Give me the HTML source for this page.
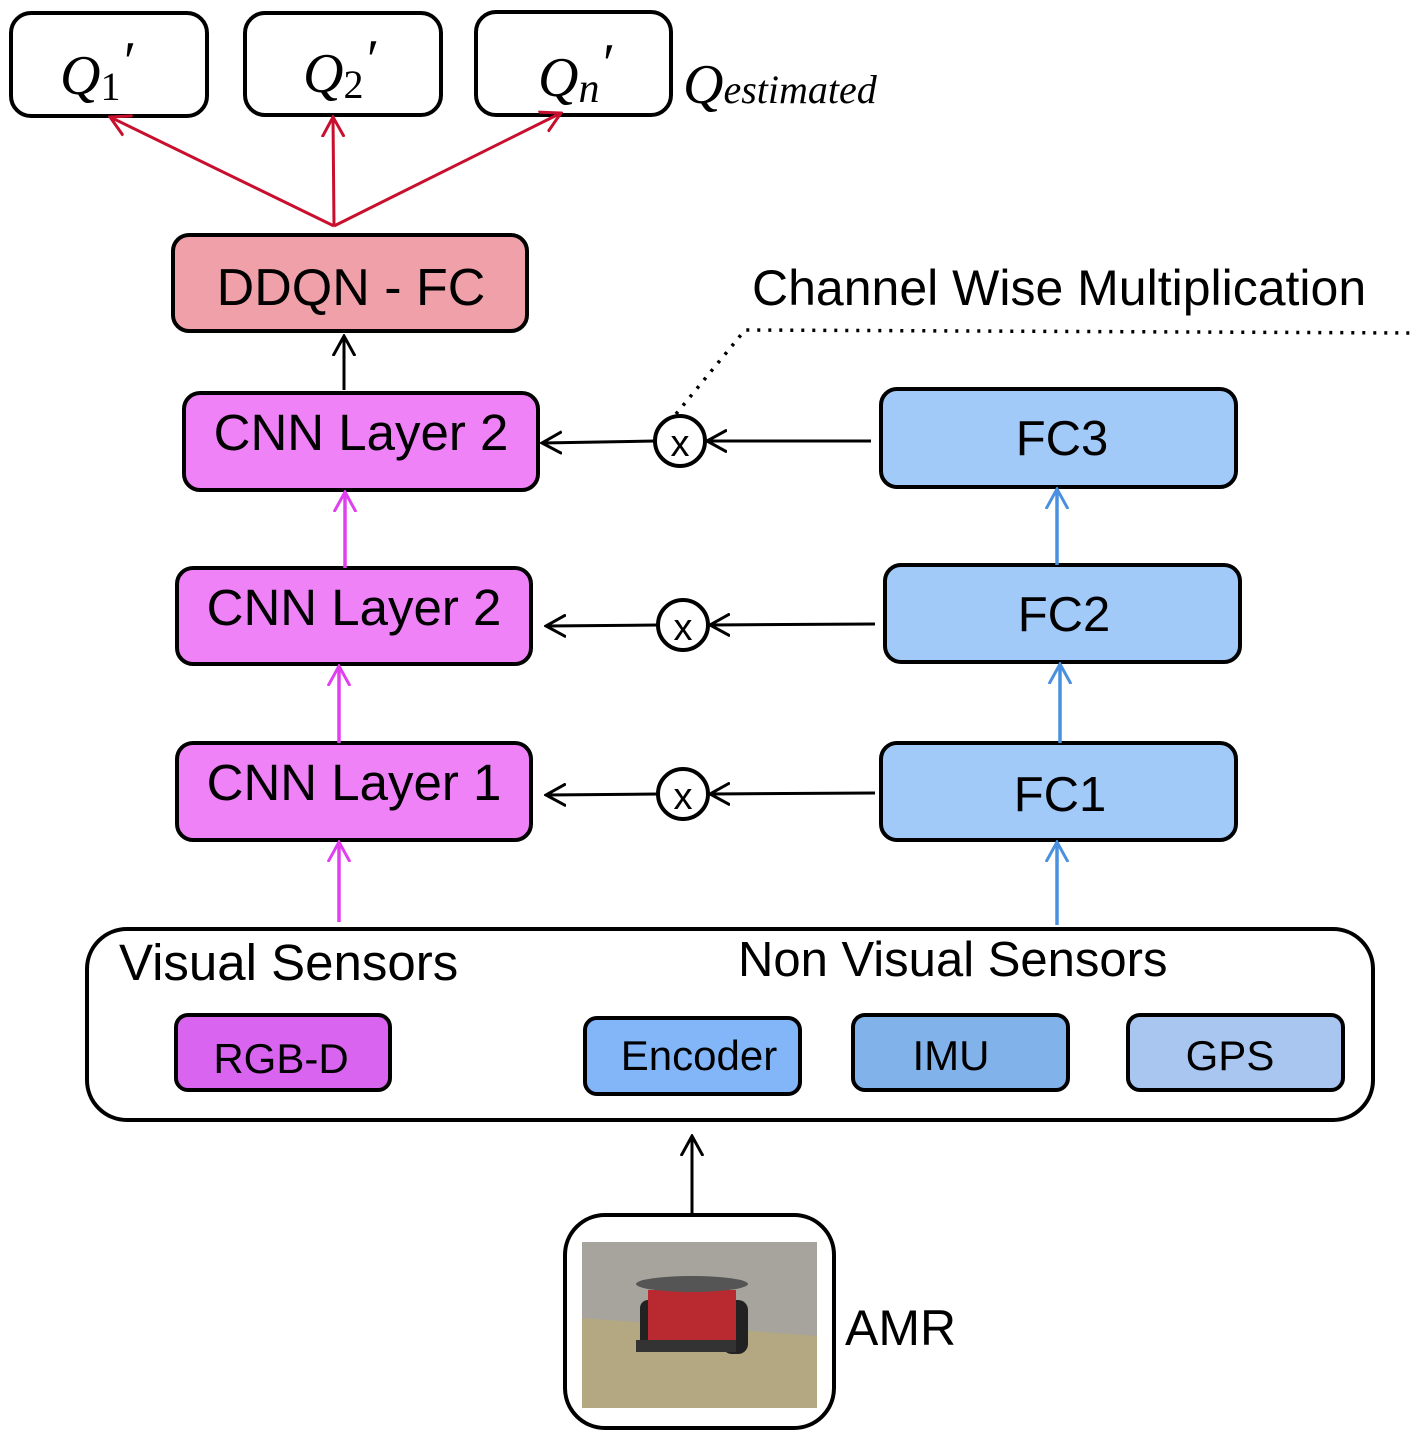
<!DOCTYPE html>
<html><head><meta charset="utf-8"><style>html,body{margin:0;padding:0;background:#fff}svg{display:block}</style></head><body>
<svg width="1424" height="1444" viewBox="0 0 1424 1444" xmlns="http://www.w3.org/2000/svg" font-family="Liberation Sans, sans-serif">
<defs>
<marker id="ar" markerWidth="22" markerHeight="24" refX="20" refY="12" orient="auto" markerUnits="userSpaceOnUse"><path d="M0,1 L20,12 L0,23" fill="none" stroke="context-stroke" stroke-width="3"/></marker>
</defs>
<g stroke="#000" stroke-width="4" fill="#fff">
<rect x="11" y="13" width="196" height="103" rx="20"/>
<rect x="245" y="13" width="196" height="102" rx="20"/>
<rect x="476" y="12" width="195" height="103" rx="20"/>
<rect x="173" y="235" width="354" height="96" rx="16" fill="#f0a0a8"/>
<rect x="184" y="393" width="354" height="97" rx="16" fill="#ee82f6"/>
<rect x="177" y="568" width="354" height="96" rx="16" fill="#ee82f6"/>
<rect x="177" y="743" width="354" height="97" rx="16" fill="#ee82f6"/>
<rect x="881" y="389" width="355" height="98" rx="16" fill="#a2caf8"/>
<rect x="885" y="565" width="355" height="97" rx="16" fill="#a2caf8"/>
<rect x="881" y="743" width="355" height="97" rx="16" fill="#a2caf8"/>
<rect x="87" y="929" width="1286" height="191" rx="40"/>
<rect x="176" y="1015" width="214" height="75" rx="12" fill="#d864f0"/>
<rect x="585" y="1018" width="215" height="76" rx="12" fill="#82b6f8"/>
<rect x="853" y="1015" width="215" height="75" rx="12" fill="#82b2ea"/>
<rect x="1128" y="1015" width="215" height="75" rx="12" fill="#a8c6f0"/>
<rect x="565" y="1215" width="269" height="213" rx="40"/>
<circle cx="680" cy="441" r="25"/>
<circle cx="683" cy="625" r="25"/>
<circle cx="683" cy="794" r="25"/>
</g>
<!-- AMR picture -->
<rect x="582" y="1242" width="235" height="166" fill="#a6a49c"/>
<polygon points="582,1318 817,1336 817,1408 582,1408" fill="#b4a882"/>
<rect x="640" y="1300" width="20" height="48" rx="8" fill="#222"/>
<rect x="722" y="1300" width="26" height="54" rx="10" fill="#222"/>
<rect x="648" y="1290" width="88" height="58" fill="#b82a30"/>
<ellipse cx="692" cy="1284" rx="56" ry="8" fill="#555"/>
<rect x="636" y="1340" width="100" height="12" fill="#333"/>
<g stroke="#c8102e" stroke-width="3" fill="none">
<line x1="334" y1="226" x2="110" y2="117" marker-end="url(#ar)"/>
<line x1="334" y1="226" x2="333" y2="117" marker-end="url(#ar)"/>
<line x1="334" y1="226" x2="561" y2="113" marker-end="url(#ar)"/>
</g>
<g stroke="#000" stroke-width="3" fill="none">
<line x1="344" y1="390" x2="344" y2="336" marker-end="url(#ar)"/>
<line x1="871" y1="441" x2="707" y2="441" marker-end="url(#ar)"/>
<line x1="655" y1="441" x2="542" y2="443" marker-end="url(#ar)"/>
<line x1="875" y1="624" x2="710" y2="625" marker-end="url(#ar)"/>
<line x1="658" y1="625" x2="546" y2="626" marker-end="url(#ar)"/>
<line x1="875" y1="793" x2="710" y2="794" marker-end="url(#ar)"/>
<line x1="658" y1="794" x2="546" y2="795" marker-end="url(#ar)"/>
<line x1="692" y1="1215" x2="692" y2="1136" marker-end="url(#ar)"/>
<polyline points="676,414 745,330 1414,333" stroke-dasharray="3,8" stroke-width="3.5"/>
</g>
<g stroke="#e040f0" stroke-width="3.5" fill="none">
<line x1="345" y1="568" x2="345" y2="492" marker-end="url(#ar)"/>
<line x1="339" y1="743" x2="339" y2="666" marker-end="url(#ar)"/>
<line x1="339" y1="922" x2="339" y2="842" marker-end="url(#ar)"/>
</g>
<g stroke="#4a90e0" stroke-width="3.5" fill="none">
<line x1="1057" y1="565" x2="1057" y2="489" marker-end="url(#ar)"/>
<line x1="1060" y1="743" x2="1060" y2="664" marker-end="url(#ar)"/>
<line x1="1057" y1="925" x2="1057" y2="842" marker-end="url(#ar)"/>
</g>
<g font-family="Liberation Serif, serif" font-style="italic" fill="#000">
<text x="60" y="94" font-size="56">Q<tspan font-size="40" font-style="normal" dy="6">1</tspan><tspan dy="-20">′</tspan></text>
<text x="303" y="92" font-size="56">Q<tspan font-size="40" font-style="normal" dy="6">2</tspan><tspan dy="-20">′</tspan></text>
<text x="538" y="96" font-size="56">Q<tspan font-size="42" dy="6">n</tspan><tspan dy="-20">′</tspan></text>
<text x="683" y="103" font-size="56">Q<tspan font-size="40">estimated</tspan></text>
</g>
<g font-size="51" fill="#000" text-anchor="middle">
<text x="351" y="305" font-size="52">DDQN - FC</text>
<text x="361" y="450">CNN Layer 2</text>
<text x="354" y="625">CNN Layer 2</text>
<text x="354" y="800">CNN Layer 1</text>
<text x="1062" y="455" font-size="49">FC3</text>
<text x="1064" y="631" font-size="49">FC2</text>
<text x="1060" y="811" font-size="49">FC1</text>
<text x="680" y="456" font-size="38">x</text>
<text x="683" y="640" font-size="38">x</text>
<text x="683" y="809" font-size="38">x</text>
</g>
<g font-size="49" fill="#000">
<text x="752" y="305" font-size="50">Channel Wise Multiplication</text>
<text x="119" y="980" font-size="51">Visual Sensors</text>
<text x="738" y="976">Non Visual Sensors</text>
<text x="845" y="1345" font-size="50">AMR</text>
</g>
<g font-size="42" fill="#000" text-anchor="middle">
<text x="281" y="1073">RGB-D</text>
<text x="699" y="1070">Encoder</text>
<text x="951" y="1070">IMU</text>
<text x="1230" y="1070">GPS</text>
</g>
</svg>
</body></html>
